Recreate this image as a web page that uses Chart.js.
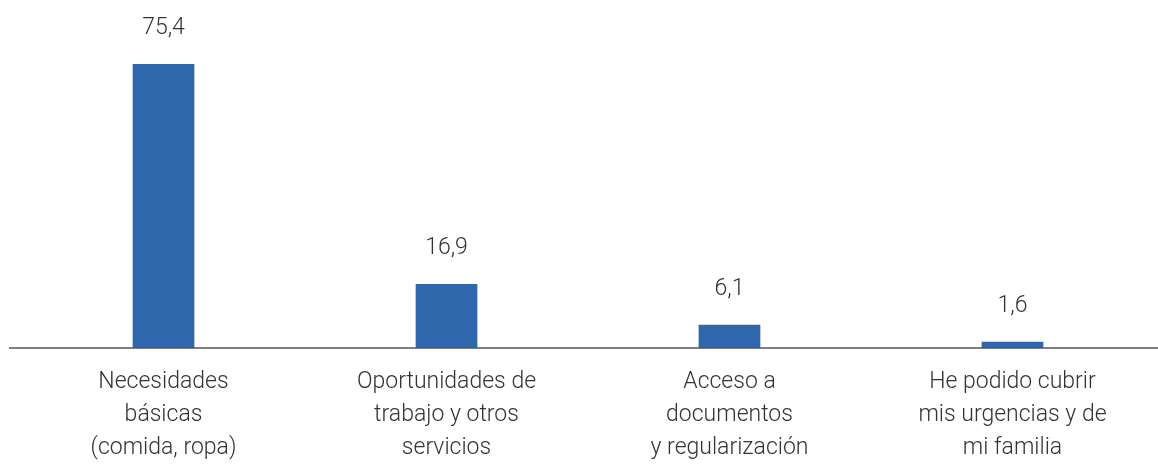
<!doctype html>
<html lang="es">
  <head>
    <meta charset="UTF-8" />
    <title>Necesidades cubiertas</title>
    <script src="https://cdn.jsdelivr.net/npm/chart.js"></script>
    <style>
      html, body { margin: 0; padding: 0; background: #fff; }
      .chart-container { position: relative; width: 1158px; height: 466px; }
    </style>
  </head>
  <body>
    <div class="chart-container">
      <canvas id="barChart"></canvas>
    </div>
    <script>
      // Data
      const categories = [
        ["Necesidades", "básicas", "(comida, ropa)"],
        ["Oportunidades de", "trabajo y otros", "servicios"],
        ["Acceso a", "documentos", "y regularización"],
        ["He podido cubrir", "mis urgencias y de", "mi familia"],
      ];
      const values = [75.4, 16.9, 6.1, 1.6];

      const fontFamily = "'Roboto', 'Liberation Sans', sans-serif";
      const textColor = "#333333";

      // draws the baseline across the whole width
      const baseline = {
        id: "baseline",
        afterDatasetsDraw(chart) {
          const ctx = chart.ctx;
          const y = chart.scales.y.getPixelForValue(0);
          ctx.save();
          ctx.strokeStyle = "#555555";
          ctx.lineWidth = 1.5;
          ctx.beginPath();
          ctx.moveTo(9, y);
          ctx.lineTo(chart.width, y);
          ctx.stroke();
          ctx.restore();
        },
      };

      // value labels above the bars
      const valueLabels = {
        id: "valueLabels",
        afterDatasetsDraw(chart) {
          const ctx = chart.ctx;
          const meta = chart.getDatasetMeta(0);
          ctx.save();
          ctx.font = "300 23px " + fontFamily;
          ctx.fillStyle = textColor;
          ctx.textAlign = "center";
          ctx.textBaseline = "middle";
          meta.data.forEach((bar, i) => {
            const txt = values[i].toFixed(1).replace(".", ",");
            ctx.fillText(txt, bar.x, bar.y - 36);
          });
          ctx.restore();
        },
      };

      new Chart(document.getElementById("barChart"), {
        type: "bar",
        data: {
          labels: categories,
          datasets: [
            {
              data: values,
              backgroundColor: "#3066ab",
              barThickness: 61,
            },
          ],
        },
        options: {
          responsive: true,
          maintainAspectRatio: false,
          animation: false,
          layout: { padding: { left: 22, right: 4, top: 47, bottom: 0 } },
          plugins: {
            legend: { display: false },
            tooltip: { enabled: false },
          },
          scales: {
            x: {
              grid: { display: false, drawTicks: false },
              border: { display: false },
              afterFit(scale) {
                scale.height = 118;
              },
              ticks: {
                padding: 18,
                color: textColor,
                maxRotation: 0,
                autoSkip: false,
                font: { family: fontFamily, size: 23, weight: 300, lineHeight: 1.435 },
              },
            },
            y: {
              display: false,
              min: 0,
              max: 80,
            },
          },
        },
        plugins: [baseline, valueLabels],
      });
    </script>
  </body>
</html>
